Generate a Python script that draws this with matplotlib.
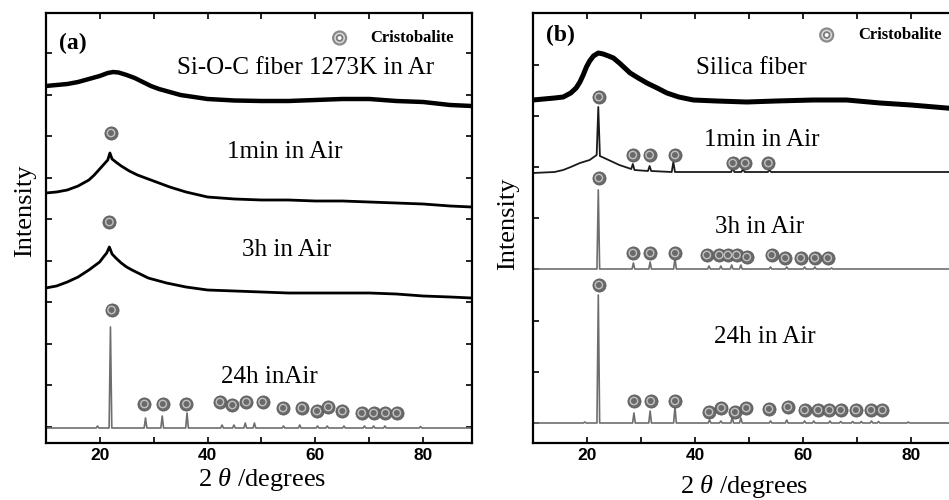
import numpy as np
import matplotlib
matplotlib.use("Agg")
import matplotlib.pyplot as plt

plt.rcParams['font.family'] = ['Liberation Serif', 'DejaVu Serif']
plt.rcParams['mathtext.fontset'] = 'custom'
plt.rcParams['mathtext.rm'] = 'Liberation Serif'
plt.rcParams['mathtext.it'] = 'Liberation Serif:italic'
plt.rcParams['lines.solid_joinstyle'] = 'round'

# ---- panel (a): Si-O-C fiber, heights in arbitrary units ----
a1_x = [10, 12, 14, 16, 18, 20, 21.5, 22.5, 23.5, 25, 26.5, 28, 29.5, 31, 33, 35, 37.5, 40,
        45, 50, 55, 60, 65, 70, 75, 80, 85, 89]
a1_y = [357, 358, 359, 361, 364, 367, 370, 371, 370.5, 368, 365, 361, 357, 354, 351, 348, 346, 344,
        342.5, 342, 342, 343, 344, 344, 342, 341, 338, 337]

a2_x = [10, 12, 14, 16, 18, 19, 20, 21, 21.5, 21.9, 22.3, 23, 24, 25.5, 27, 28.5, 30, 33, 36, 40,
        45, 50, 55, 60, 65, 70, 75, 80, 85, 89]
a2_y = [250, 251, 253, 257, 263, 268, 274, 280, 283, 290, 284, 281, 277, 272, 268, 265, 262, 256, 251, 246,
        244, 243, 243, 242, 242, 241, 240, 239, 237, 236]

a3_x = [10, 12, 14, 16, 18, 19, 20, 20.7, 21.3, 21.8, 22.3, 23, 24, 25, 26, 27.5, 29, 32.4, 36, 40,
        45, 50, 55, 60, 65, 70, 75, 80, 85, 89]
a3_y = [155, 157, 161, 166, 173, 177, 181, 186, 190, 196, 189, 185, 180, 176, 173, 169, 165, 160, 156, 153,
        152, 151, 150, 150, 150, 150, 149, 147, 146, 145]

a4_base = 15
a4_pos = [19.6, 22.0, 28.5, 31.6, 36.2, 42.7, 44.9, 47.0, 48.7, 54.1, 57.1, 60.4, 62.2, 65.3, 69.1, 70.8, 72.9, 79.5]
a4_hgt = [17, 116, 25, 27, 30, 18, 18, 20, 20, 17, 18, 17, 17, 17, 17, 17, 17, 16.5]

a2_mx, a2_my = [22.1], [310]
a3_mx, a3_my = [21.8], [221]
a4_mx = [22.2, 28.3, 31.7, 36.1, 42.3, 44.6, 47.2, 50.2, 54.0, 57.5, 60.3, 62.4, 65.0, 68.6, 70.8, 73.0, 75.1]
a4_my = [133, 39, 39, 39, 41, 38, 41, 41, 35, 35, 32, 36, 32, 30, 30, 30, 30]

# ---- panel (b): silica fiber ----
b1_x = [10, 12, 14, 15.6, 17, 18, 18.7, 19.3, 19.9, 20.5, 21.2, 22.1, 23, 24, 24.9, 26, 27, 28,
        29.5, 31.1, 33, 34.8, 37, 39.7, 44, 49.6, 55, 61.9, 68.1, 74.3, 80, 86.6, 89]
b1_y = [343, 344, 345, 346, 350, 355, 361, 368, 376, 382, 387, 390, 389, 387, 385, 380, 375, 370,
        365, 360, 355, 350, 346, 343, 342, 341, 342, 343, 343, 340, 338, 335, 334]

b2_x = [10, 14, 15.6, 17, 18.7, 20.5, 21.8, 22.1, 22.4, 24, 26, 28.2, 28.5, 28.8, 31.3, 31.6, 31.9, 35.7, 36.0, 36.3,
        40, 46.7, 47.0, 47.3, 48.6, 48.9, 49.2, 53.5, 53.8, 54.1, 60, 70, 80, 89]
b2_y = [270, 271, 273, 276, 280, 283, 288, 336, 287, 283, 278, 274, 279, 273, 272, 277, 272, 271, 281, 271,
        271, 271, 275, 271, 271, 274, 271, 271, 273, 271, 271, 271, 271, 271]

b3_base = 174
b3_pos = [22.1, 28.6, 31.7, 36.3, 42.6, 44.8, 46.8, 48.5, 54.0, 57.0, 60.3, 62.2, 65.3]
b3_hgt = [253, 180, 181, 185, 177, 177, 178, 178, 176, 176, 176, 176, 175]

b4_base = 20
b4_pos = [19.6, 22.1, 28.7, 31.7, 36.3, 42.7, 44.8, 46.9, 48.5, 54.0, 57.0, 60.3, 62.0, 65.0, 67.0, 69.2, 70.8, 72.7, 74.0, 79.5]
b4_hgt = [21, 148, 30, 32, 36, 23, 22, 26, 25, 22, 23, 22, 22, 22, 21.5, 21.5, 21.5, 22, 21.5, 21]

b2_mx = [22.2, 28.5, 31.6, 36.3, 47.0, 49.3, 53.6]
b2_my = [346, 288, 288, 288, 280, 280, 280]
b3_mx = [22.2, 28.5, 31.7, 36.3, 42.2, 44.5, 46.1, 47.7, 49.6, 54.2, 56.7, 59.6, 62.2, 64.6]
b3_my = [265, 190, 190, 190, 188, 188, 188, 188, 186, 188, 185, 185, 185, 185]
b4_mx = [22.2, 28.7, 31.8, 36.3, 42.6, 44.9, 47.4, 49.5, 53.7, 57.2, 60.3, 62.8, 64.9, 67.0, 69.8, 72.6, 74.7]
b4_my = [158, 42, 42, 42, 31, 35, 31, 35, 34, 36, 33, 33, 33, 33, 33, 33, 33]


def stick_profile(pos, hgt, base, lo=10, hi=89, w=0.25):
    # flat baseline with narrow triangular peaks
    xs, ys = [lo], [base]
    for p, h in zip(pos, hgt):
        xs += [p - w, p, p + w]
        ys += [base, h, base]
    xs.append(hi)
    ys.append(base)
    return xs, ys


def cristobalite(ax, xs, ys):
    ax.scatter(xs, ys, s=90, c='#6a6a6a', edgecolors='#555555', linewidths=0.5, zorder=4)
    ax.scatter(xs, ys, s=28, facecolors='none', edgecolors='#c2c2c2', linewidths=1.0, zorder=5)


def legend_mark(ax, x, y):
    ax.scatter([x], [y], s=120, c='#8a8a8a', edgecolors='none', zorder=4, clip_on=False)
    ax.scatter([x], [y], s=60, c='#dadada', edgecolors='none', zorder=5, clip_on=False)
    ax.scatter([x], [y], s=30, c='#7a7a7a', edgecolors='none', zorder=6, clip_on=False)
    ax.scatter([x], [y], s=8, c='white', edgecolors='none', zorder=7, clip_on=False)


def style_axes(ax, yticks):
    ax.set_xlim(10, 89)
    ax.set_ylim(0, 430)
    ax.set_xticks([20, 40, 60, 80])
    ax.set_xticks([30, 50, 70], minor=True)
    ax.set_yticks(yticks)
    ax.set_yticklabels([])
    ax.tick_params(which='both', direction='in', top=True, right=True, length=4, width=1.2)
    for lab in ax.get_xticklabels():
        lab.set_fontfamily('Liberation Sans')
        lab.set_fontweight('bold')
        lab.set_fontsize(12.5)
    for s in ax.spines.values():
        s.set_linewidth(1.6)


fig = plt.figure(figsize=(9.49, 5.0), dpi=100)
ax1 = fig.add_axes([0.0482, 0.114, 0.4489, 0.86])
ax2 = fig.add_axes([0.5616, 0.114, 0.4495, 0.86])

# panel (a)
ax1.plot(a1_x, a1_y, color='black', lw=3.2)
ax1.plot(a2_x, a2_y, color='black', lw=2.0)
ax1.plot(a3_x, a3_y, color='black', lw=2.0)
px, py = stick_profile(a4_pos, a4_hgt, a4_base)
ax1.plot(px, py, color='#6e6e6e', lw=1.2)
cristobalite(ax1, a2_mx, a2_my)
cristobalite(ax1, a3_mx, a3_my)
cristobalite(ax1, a4_mx, a4_my)
style_axes(ax1, np.arange(16.5, 430, 41.5))

ax1.text(12.4, 400, '(a)', fontsize=17, fontweight='bold', va='center', ha='left')
legend_mark(ax1, 64.5, 405)
ax1.text(70.1, 405, 'Cristobalite', fontsize=12, fontweight='bold', va='center', ha='left')
ax1.text(58.2, 375, 'Si-O-C fiber 1273K in Ar', fontsize=18, ha='center', va='center')
ax1.text(54.3, 291, '1min in Air', fontsize=18, ha='center', va='center')
ax1.text(54.7, 193, '3h in Air', fontsize=18, ha='center', va='center')
ax1.text(51.5, 66, '24h inAir', fontsize=18, ha='center', va='center')
ax1.text(0.509, -0.086, '2 $\\mathit{\\theta}$ /degrees', transform=ax1.transAxes,
         fontsize=19, ha='center', va='center')
ax1.text(-0.049, 0.54, 'Intensity', transform=ax1.transAxes, rotation=90,
         fontsize=19, ha='center', va='center')

# panel (b)
ax2.plot(b1_x, b1_y, color='black', lw=3.6)
ax2.plot(b2_x, b2_y, color='#1a1a1a', lw=1.3)
px, py = stick_profile(b3_pos, b3_hgt, b3_base)
ax2.plot(px, py, color='#6e6e6e', lw=1.2)
px, py = stick_profile(b4_pos, b4_hgt, b4_base)
ax2.plot(px, py, color='#6e6e6e', lw=1.2)
cristobalite(ax2, b2_mx, b2_my)
cristobalite(ax2, b3_mx, b3_my)
cristobalite(ax2, b4_mx, b4_my)
style_axes(ax2, np.arange(20, 430, 51.2))

ax2.text(12.4, 408, '(b)', fontsize=17, fontweight='bold', va='center', ha='left')
legend_mark(ax2, 64.4, 408)
ax2.text(70.2, 408, 'Cristobalite', fontsize=12, fontweight='bold', va='center', ha='left')
ax2.text(50.4, 375, 'Silica fiber', fontsize=18, ha='center', va='center')
ax2.text(52.4, 303, '1min in Air', fontsize=18, ha='center', va='center')
ax2.text(52.0, 216, '3h in Air', fontsize=18, ha='center', va='center')
ax2.text(53.0, 106, '24h in Air', fontsize=18, ha='center', va='center')
ax2.text(0.495, -0.102, '2 $\\mathit{\\theta}$ /degrees', transform=ax2.transAxes,
         fontsize=19, ha='center', va='center')
ax2.text(-0.058, 0.51, 'Intensity', transform=ax2.transAxes, rotation=90,
         fontsize=19, ha='center', va='center')

fig.savefig('out.png', dpi=100)
